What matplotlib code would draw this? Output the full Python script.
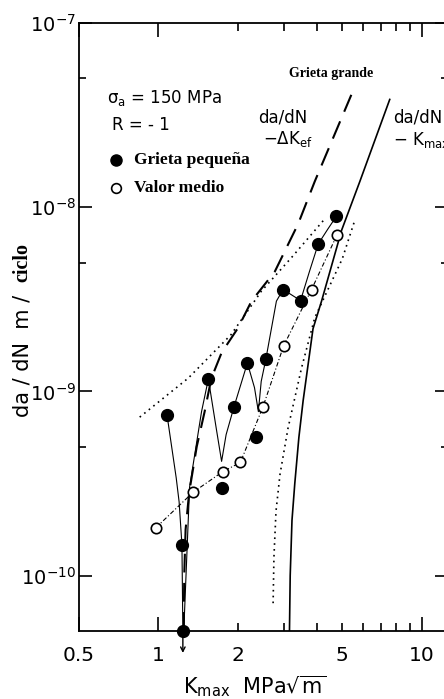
import matplotlib
matplotlib.use("Agg")
import matplotlib.pyplot as plt
import numpy as np

plt.rcParams["font.family"] = ["DejaVu Sans"]
plt.rcParams["mathtext.fontset"] = "dejavusans"

# ─── Datos ────────────────────────────────────────────────────────────────────
# Grieta pequena (puntos llenos)
k_peq = [1.08, 1.23, 1.24, 1.55, 1.74, 1.94, 2.18, 2.36, 2.56, 2.98, 3.47, 4.05, 4.75]
v_peq = [7.4e-10, 1.47e-10, 5.0e-11, 1.17e-9, 2.98e-10, 8.26e-10, 1.43e-9,
         5.68e-10, 1.49e-9, 3.57e-9, 3.11e-9, 6.3e-9, 8.93e-9]

# trazo a mano que une los puntos de grieta pequena (log10 da/dN)
k_traz = [1.08, 1.17, 1.20, 1.23, 1.24, 1.25, 1.315, 1.46, 1.55, 1.66, 1.74, 1.81,
          1.94, 2.18, 2.32, 2.40, 2.46, 2.56, 2.81, 2.98, 3.47, 3.75, 4.05, 4.40, 4.75]
lg_traz = [-9.13, -9.47, -9.60, -9.833, -10.30, -10.30, -9.52, -9.11, -8.933, -9.20,
           -9.38, -9.235, -9.083, -8.846, -8.98, -9.11, -8.946, -8.828, -8.51, -8.447,
           -8.507, -8.35, -8.20, -8.12, -8.049]

# Valor medio (puntos vacios)
k_med = [0.98, 1.355, 1.76, 2.05, 2.5, 2.99, 3.82, 4.78]
v_med = [1.82e-10, 2.83e-10, 3.67e-10, 4.11e-10, 8.26e-10, 1.76e-9, 3.57e-9, 7.1e-9]

# Grieta grande: da/dN - dK_ef (discontinua)
k_kef = [1.25, 1.255, 1.27, 1.31, 1.40, 1.50, 1.59, 1.74, 2.01, 2.26, 2.77, 3.4, 3.93, 5.41]
lg_kef = [-10.30, -10.0, -9.75, -9.55, -9.30, -9.11, -8.93, -8.79, -8.655, -8.51,
          -8.35, -8.09, -7.86, -7.39]

# Grieta grande: da/dN - Kmax (continua)
k_kmax = [3.15, 3.17, 3.22, 3.30, 3.42, 3.55, 3.87, 4.17, 4.97, 5.83, 7.57]
lg_kmax = [-10.30, -10.0, -9.70, -9.50, -9.25, -9.05, -8.66, -8.51, -8.125, -7.86, -7.415]

# bandas punteadas
k_pun1 = [0.85, 1.30, 1.89, 2.32, 2.46, 3.2, 4.28]
lg_pun1 = [-9.14, -8.928, -8.692, -8.51, -8.457, -8.275, -8.065]
k_pun2 = [2.73, 2.75, 2.80, 2.90, 3.11, 3.50, 3.93, 4.50, 5.0, 5.58]
lg_pun2 = [-10.15, -9.9, -9.65, -9.45, -9.2, -8.873, -8.6, -8.42, -8.28, -8.07]

flecha_k = 1.24
flecha_v = (5.0e-11, 3.8e-11)

# ─── Figura ──────────────────────────────────────────────────────────────────
W, H = 444, 699
fig = plt.figure(figsize=(W / 100, H / 100), dpi=100)
fig.patch.set_facecolor("white")
ax = fig.add_axes([79 / W, 68 / H, 369 / W, 608 / H])
ax.set_xscale("log")
ax.set_yscale("log")
ax.set_xlim(0.5, 12.6)
ax.set_ylim(5e-11, 1e-7)

neg = "black"
ax.plot(k_kef, 10 ** np.array(lg_kef), color=neg, lw=1.5, dashes=(9, 5))
ax.plot(k_kmax, 10 ** np.array(lg_kmax), color=neg, lw=1.2)
ax.plot(k_pun1, 10 ** np.array(lg_pun1), color=neg, lw=1.2, dashes=(1, 2.5))
ax.plot(k_pun2, 10 ** np.array(lg_pun2), color=neg, lw=1.2, dashes=(1, 2.5))
ax.plot(k_traz, 10 ** np.array(lg_traz), color=neg, lw=0.8)
ax.plot(k_med, v_med, color=neg, lw=0.8, dashes=(4, 2, 1, 2))

ax.plot(k_peq, v_peq, "o", color=neg, ms=8.5, clip_on=False, zorder=5)
ax.plot(k_med, v_med, "o", mfc="white", mec=neg, mew=1.2, ms=7.5, zorder=5)

ax.annotate("", xy=(flecha_k, flecha_v[1]), xytext=(flecha_k, flecha_v[0]),
            arrowprops=dict(arrowstyle="->", lw=1.0, color=neg,
                            shrinkA=0, shrinkB=0, mutation_scale=8),
            annotation_clip=False)

# ─── Ejes y marcas ───────────────────────────────────────────────────────────
for s in ax.spines.values():
    s.set_linewidth(1.3)

ax.set_xticks([0.5, 1, 10], ["0.5", "1", "10"])
ax.set_xticks([2, 3, 4, 5, 6, 7, 8, 9], ["2", "", "", "5", "", "", "", ""], minor=True)
ax.set_yticks([1e-10, 1e-9, 1e-8, 1e-7])
ax.set_yticks([5e-10, 5e-9, 5e-8], [], minor=True)

ax.xaxis.set_tick_params(which="major", direction="in", length=10, width=1.2,
                         top=True, labelsize=14.5, pad=11)
ax.xaxis.set_tick_params(which="minor", direction="in", length=6, width=1.2,
                         top=True, labelsize=14.5, pad=11)
ax.yaxis.set_tick_params(which="major", direction="in", length=9.5, width=1.2,
                         right=True, labelsize=14, pad=2)
ax.yaxis.set_tick_params(which="minor", direction="in", length=5, width=1.2,
                         right=True)

# ─── Textos ──────────────────────────────────────────────────────────────────
def fx(px):
    return (px - 79) / 369


def fy(py):
    return (631 - py) / 608


serif = "Liberation Serif"
ax.text(fx(107), fy(98), r"$\mathrm{\sigma_a}$ = 150 MPa", fontsize=12, va="center",
        transform=ax.transAxes)
ax.text(fx(112), fy(125), "R = - 1", fontsize=12, va="center", transform=ax.transAxes)
ax.plot([fx(116)], [fy(160)], "o", color=neg, ms=8, transform=ax.transAxes, clip_on=False)
ax.plot([fx(116)], [fy(188)], "o", mfc="white", mec=neg, mew=1.2, ms=7,
        transform=ax.transAxes, clip_on=False)
ax.text(fx(134), fy(160), "Grieta pequeña", family=serif, fontweight="bold",
        fontsize=12.5, va="center", transform=ax.transAxes)
ax.text(fx(134), fy(188), "Valor medio", family=serif, fontweight="bold",
        fontsize=12.5, va="center", transform=ax.transAxes)
ax.text(fx(331), fy(73), "Grieta grande", family=serif, fontweight="bold",
        fontsize=10, ha="center", va="center", transform=ax.transAxes)
ax.text(fx(258), fy(117), "da/dN", fontsize=12, va="center", transform=ax.transAxes)
ax.text(fx(263), fy(139), r"$-\Delta$K$_{\mathrm{ef}}$", fontsize=12, va="center",
        transform=ax.transAxes)
ax.text(fx(393), fy(117), "da/dN", fontsize=12, va="center", transform=ax.transAxes,
        clip_on=False)
ax.text(fx(393), fy(140), r"$-$ K$_{\mathrm{max}}$", fontsize=12, va="center",
        transform=ax.transAxes, clip_on=False)

# rotulos de ejes
fig.text(22 / W, 1 - 417 / H, "da / dN  m /", rotation=90, fontsize=15,
         ha="center", va="bottom")
fig.text(22 / W, 1 - 282 / H, "ciclo", rotation=90, family=serif,
         fontweight="bold", fontsize=14.5, ha="center", va="bottom")
fig.text(255 / W, 1 - 686 / H, r"K$_{\mathrm{max}}$  MPa$\sqrt{\mathrm{m}}$", fontsize=15,
         ha="center", va="center")

fig.savefig("out.png", dpi=100, facecolor=fig.get_facecolor())
